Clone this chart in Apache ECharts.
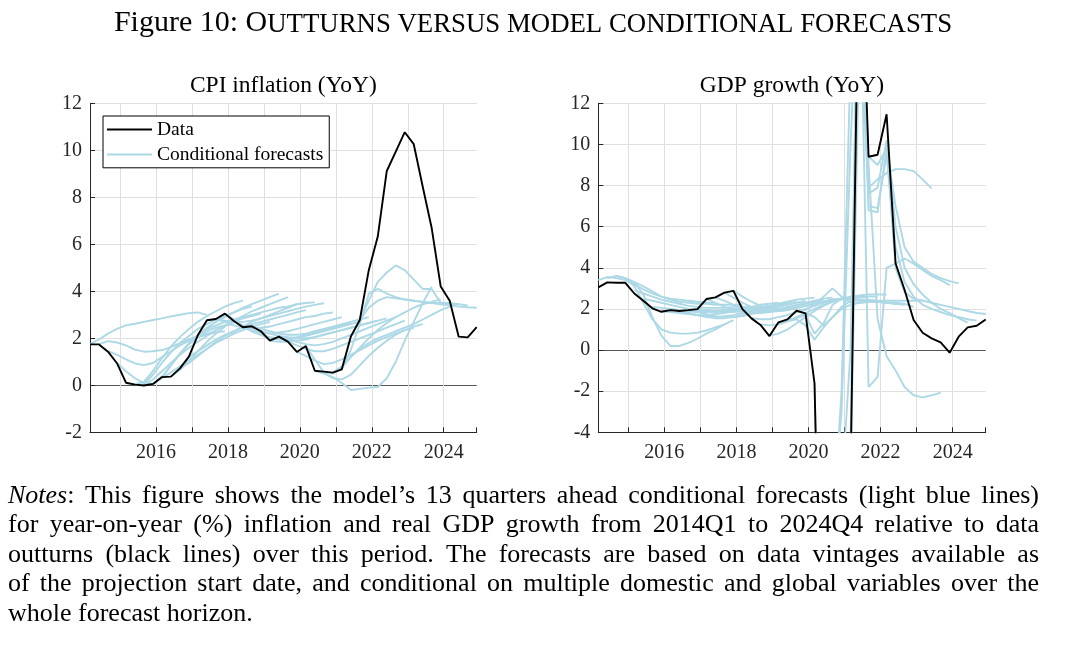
<!DOCTYPE html>
<html>
<head>
<meta charset="utf-8">
<title>Figure 10: Outturns versus model conditional forecasts</title>
<script src="https://cdn.jsdelivr.net/npm/echarts@6.0.0/dist/echarts.min.js"></script>
<style>
html, body { margin: 0; padding: 0; background: #fff; }
#chart { width: 1068px; height: 656px; }
</style>
</head>
<body>
<div id="chart"></div>
<script>
// quarters shown on both panels
var quarters = [
  '2014Q1','2014Q2','2014Q3','2014Q4','2015Q1','2015Q2','2015Q3','2015Q4',
  '2016Q1','2016Q2','2016Q3','2016Q4','2017Q1','2017Q2','2017Q3','2017Q4',
  '2018Q1','2018Q2','2018Q3','2018Q4','2019Q1','2019Q2','2019Q3','2019Q4',
  '2020Q1','2020Q2','2020Q3','2020Q4','2021Q1','2021Q2','2021Q3','2021Q4',
  '2022Q1','2022Q2','2022Q3','2022Q4','2023Q1','2023Q2','2023Q3','2023Q4',
  '2024Q1','2024Q2','2024Q3','2024Q4'
];

// outturns (black lines)
var cpiData = [1.74,1.74,1.43,0.94,0.11,0.03,-0.01,0.06,0.35,0.37,0.72,1.22,2.14,2.77,2.82,3.05,
  2.74,2.47,2.51,2.3,1.9,2.07,1.86,1.42,1.67,0.62,0.58,0.54,0.68,2.07,2.78,4.9,
  6.33,9.12,9.94,10.77,10.26,8.45,6.68,4.2,3.6,2.07,2.04,2.48];
var gdpData = [3.05,3.29,3.27,3.27,2.75,2.4,2.03,1.86,1.94,1.9,1.94,1.99,2.48,2.56,2.79,2.88,
  1.99,1.54,1.22,0.68,1.35,1.49,1.91,1.78,-1.62,-21.0,-8.5,-7.0,-6.0,22.0,9.4,9.5,
  11.47,4.21,2.92,1.46,0.84,0.57,0.37,-0.13,0.65,1.1,1.18,1.49];

// projection start quarters, one per forecast path
var fcStarts = quarters.slice(0, 31);

// 13 quarters ahead conditional forecasts (light blue lines)
var cpiForecasts = [
  [1.75,1.95,2.2,2.4,2.55,2.62,2.7,2.78,2.85,2.93,3.0,3.07,3.1,3.0],
  [1.75,1.88,1.82,1.7,1.52,1.43,1.45,1.5,1.62,1.8,1.95,2.1,2.2,2.3],
  [1.45,1.3,1.1,0.93,0.86,0.95,1.2,1.45,1.7,1.9,2.05,2.15,2.25,2.3],
  [0.95,0.6,0.3,0.1,0.05,0.35,0.85,1.35,1.75,2.05,2.3,2.45,2.55,2.6],
  [0.1,0.05,0.15,0.6,1.15,1.65,2.05,2.4,2.7,2.95,3.15,3.35,3.5,3.6],
  [0.0,0.05,0.45,0.95,1.4,1.8,2.1,2.4,2.6,2.8,2.95,3.1,3.25,3.35],
  [0.0,0.25,0.6,0.95,1.3,1.6,1.85,2.1,2.35,2.55,2.7,2.85,2.95,3.05],
  [0.05,0.3,0.55,0.8,1.05,1.3,1.55,1.8,2.0,2.2,2.35,2.5,2.6,2.7],
  [0.35,0.85,1.35,1.8,2.15,2.45,2.7,2.9,3.1,3.3,3.45,3.6,3.75,3.9],
  [0.37,0.65,1.05,1.45,1.85,2.2,2.5,2.75,2.95,3.15,3.3,3.45,3.6,3.75],
  [0.72,0.95,1.25,1.55,1.85,2.1,2.3,2.5,2.7,2.85,3.0,3.15,3.3,3.45],
  [1.22,1.45,1.7,1.95,2.15,2.3,2.45,2.6,2.7,2.8,2.9,3.0,3.1,3.2],
  [2.14,2.4,2.55,2.7,2.8,2.9,3.0,3.1,3.2,3.3,3.35,3.45,3.5,3.53],
  [2.77,2.8,2.75,2.7,2.7,2.75,2.85,2.95,3.05,3.15,3.25,3.35,3.42,3.49],
  [2.82,2.7,2.55,2.45,2.4,2.45,2.5,2.6,2.7,2.8,2.9,2.95,3.05,3.1],
  [3.05,2.8,2.55,2.35,2.25,2.2,2.25,2.3,2.4,2.5,2.6,2.7,2.8,2.9],
  [2.74,2.5,2.3,2.15,2.05,2.0,2.0,2.05,2.15,2.25,2.35,2.45,2.55,2.65],
  [2.47,2.3,2.15,2.0,1.95,1.95,2.0,2.1,2.2,2.3,2.4,2.5,2.6,2.7],
  [2.51,2.4,2.3,2.2,2.15,2.15,2.2,2.3,2.4,2.5,2.6,2.7,2.8,2.9],
  [2.3,2.2,2.1,2.05,2.0,2.0,2.05,2.15,2.25,2.35,2.45,2.55,2.65,2.75],
  [1.9,1.85,1.85,1.9,1.95,2.05,2.15,2.25,2.35,2.45,2.55,2.65,2.75,2.85],
  [2.07,1.95,1.85,1.75,1.7,1.75,1.85,2.0,2.15,2.3,2.45,2.6,2.75,2.9],
  [1.86,1.7,1.55,1.45,1.45,1.55,1.7,1.85,2.0,2.15,2.3,2.45,2.6,2.75],
  [1.42,1.25,1.05,0.9,0.95,1.1,1.3,1.5,1.7,1.9,2.05,2.2,2.35,2.45],
  [1.67,1.1,0.55,0.3,0.25,0.45,0.85,1.25,1.6,1.9,2.15,2.35,2.5,2.6],
  [0.62,0.5,0.35,0.1,-0.2,-0.15,-0.1,-0.07,0.3,1.0,1.9,2.7,3.5,4.2],
  [0.58,0.5,0.75,1.2,1.6,2.0,2.35,2.65,2.9,3.1,3.3,3.45,3.55,3.66],
  [0.54,0.8,1.2,1.55,1.8,2.0,2.15,2.3,2.45,2.6,2.8,3.0,3.2,3.35],
  [0.68,1.5,2.6,3.9,4.1,3.9,3.75,3.65,3.6,3.55,3.5,3.5,3.47,3.45],
  [2.07,2.8,3.6,4.4,4.8,5.1,4.9,4.5,4.1,4.1,3.5,3.5,3.45,3.4],
  [2.78,3.3,3.6,3.75,3.7,3.65,3.6,3.55,3.5,3.45,3.4,3.35,3.32,3.3]
];
var gdpForecasts = [
  [3.4,3.55,3.5,3.4,3.2,2.95,2.75,2.6,2.5,2.45,2.4,2.35,2.3,2.3],
  [3.5,3.6,3.5,3.1,2.3,1.5,1.0,0.85,0.8,0.8,0.85,0.95,1.1,1.25],
  [3.6,3.5,3.3,2.7,1.6,0.7,0.2,0.2,0.35,0.55,0.8,1.0,1.25,1.45],
  [3.4,3.3,3.1,2.85,2.6,2.45,2.35,2.3,2.25,2.25,2.2,2.2,2.2,2.2],
  [2.9,2.75,2.6,2.45,2.35,2.25,2.15,2.1,2.05,2.05,2.05,2.1,2.1,2.1],
  [2.5,2.4,2.3,2.2,2.1,2.0,1.95,1.9,1.9,1.95,2.0,2.0,2.05,2.05],
  [2.1,2.05,2.0,1.95,1.9,1.85,1.85,1.85,1.9,1.95,2.0,2.05,2.1,2.15],
  [1.9,1.85,1.8,1.75,1.7,1.7,1.75,1.8,1.9,2.0,2.1,2.2,2.25,2.3],
  [2.0,1.9,1.8,1.7,1.65,1.6,1.65,1.7,1.8,1.9,2.0,2.1,2.2,2.3],
  [1.9,1.8,1.7,1.6,1.55,1.55,1.6,1.7,1.8,1.9,2.05,2.15,2.25,2.35],
  [1.95,1.85,1.75,1.65,1.6,1.6,1.65,1.75,1.85,2.0,2.1,2.2,2.3,2.4],
  [2.0,1.95,1.9,1.85,1.85,1.9,1.95,2.05,2.15,2.25,2.35,2.45,2.5,2.55],
  [2.5,2.3,2.1,1.95,1.85,1.8,1.8,1.85,1.95,2.05,2.15,2.25,2.35,2.45],
  [2.55,2.4,2.2,2.05,1.95,1.9,1.95,2.0,2.1,2.2,2.3,2.4,2.5,2.55],
  [2.8,2.55,2.3,2.1,1.95,1.9,1.9,1.95,2.05,2.15,2.25,2.35,2.45,2.5],
  [2.9,2.6,2.35,2.15,2.05,2.0,2.0,2.05,2.15,2.25,2.35,2.45,2.5,2.55],
  [2.0,1.9,1.85,1.85,1.9,1.95,2.05,2.15,2.25,2.35,2.45,2.5,2.55,2.6],
  [1.55,1.5,1.5,1.6,1.7,1.85,2.0,2.15,2.3,2.4,2.5,2.55,2.6,2.6],
  [1.25,1.2,1.25,1.4,1.6,1.8,2.0,2.2,2.35,2.45,2.5,2.55,2.6,2.6],
  [0.7,0.8,1.0,1.3,1.6,1.9,2.15,2.35,2.5,2.6,2.65,2.7,2.7,2.7],
  [1.35,1.4,1.5,1.2,0.5,1.1,1.6,2.0,2.2,2.3,2.35,2.35,2.3,2.25],
  [1.5,1.55,1.7,0.8,1.3,2.2,2.5,2.45,2.4,2.4,2.35,2.3,2.25,2.2],
  [1.9,1.95,2.2,2.6,3.0,2.6,2.3,2.3,2.35,2.35,2.3,2.3,2.25,2.1],
  [1.8,1.6,1.2,1.6,2.1,2.4,2.45,2.45,2.4,2.4,2.4,2.4,2.4,2.43],
  [-1.6,-20,-10,-8,-4.5,26,7.9,8.3,8.6,8.8,8.8,8.7,8.3,7.86],
  [-21,-9,-2,14,20,9,1.5,-0.3,-1.0,-1.8,-2.2,-2.3,-2.2,-2.07],
  [-8,-3,10,20,-1.8,-1.3,4.0,4.2,4.45,4.2,3.9,3.6,3.4,3.16],
  [-7,0,22,6.8,6.7,9.8,7.0,5.0,4.3,4.0,3.7,3.5,3.35,3.24],
  [-6,16,7.6,7.9,10.2,6.0,4.0,3.2,2.7,2.3,2.0,1.8,1.55,1.33],
  [20,7.0,6.9,9.5,5.0,3.3,2.6,2.2,2.0,1.85,1.7,1.6,1.5,1.43],
  [9.4,9.0,9.8,4.0,2.8,2.5,2.4,2.3,2.2,2.1,2.0,1.9,1.8,1.75]
];

// axis ticks
var cpiYTicks = [-2, 0, 2, 4, 6, 8, 10, 12];
var gdpYTicks = [-4, -2, 0, 2, 4, 6, 8, 10, 12];

// texts
var figTitleBig = 'Figure 10: O';
var figTitleSmall = 'UTTURNS VERSUS MODEL CONDITIONAL FORECASTS';
var panelTitles = ['CPI inflation (YoY)', 'GDP growth (YoY)'];
var noteLines = [
  '_Notes_: This figure shows the model\u2019s 13 quarters ahead conditional forecasts (light blue lines)',
  'for year-on-year (%) inflation and real GDP growth from 2014Q1 to 2024Q4 relative to data',
  'outturns (black lines) over this period.  The forecasts are based on data vintages available as',
  'of the projection start date, and conditional on multiple domestic and global variables over the',
  'whole forecast horizon.'
];

var FONT = '"Liberation Serif", "Times New Roman", serif';
var FC_COLOR = '#add8e6';
var AXIS_COLOR = '#262626';
var GRID_COLOR = '#dfdfdf';
var ZERO_COLOR = '#555555';

// quarter label -> decimal year (dated two months into the quarter)
function qToX(q) {
  return +q.slice(0, 4) + (+q.slice(5) - 1) / 4 + 1 / 6;
}
var xMin = qToX(quarters[0]);
var xMax = qToX(quarters[quarters.length - 1]);

var measureCtx = document.createElement('canvas').getContext('2d');
function textWidth(str, size, italic) {
  measureCtx.font = (italic ? 'italic ' : '') + size + 'px ' + FONT;
  return measureCtx.measureText(str).width;
}

var panels = [
  { left: 90, width: 386.7 },
  { left: 598.3, width: 387.4 }
];
var gridTop = 103.3, gridHeight = 329;

function fcSeries(paths, idx) {
  return paths.map(function (vals, k) {
    var s0 = quarters.indexOf(fcStarts[k]);
    return {
      name: 'Conditional forecasts',
      type: 'line',
      xAxisIndex: idx,
      yAxisIndex: idx,
      symbol: 'none',
      silent: true,
      lineStyle: { color: FC_COLOR, width: 1.9 },
      itemStyle: { color: FC_COLOR },
      data: vals.map(function (v, j) { return [qToX(quarters[s0 + j]), v]; })
    };
  });
}
function dataSeries(vals, idx) {
  return {
    name: 'Data',
    type: 'line',
    xAxisIndex: idx,
    yAxisIndex: idx,
    symbol: 'none',
    silent: true,
    lineStyle: { color: '#000', width: 1.9 },
    itemStyle: { color: '#000' },
    data: vals.map(function (v, j) { return [qToX(quarters[j]), v]; })
  };
}

function xAxisFor(idx) {
  return {
    type: 'value',
    gridIndex: idx,
    min: xMin,
    max: xMax,
    minInterval: 1,
    maxInterval: 1,
    axisLine: { show: true, onZero: false, lineStyle: { color: AXIS_COLOR, width: 1 } },
    axisTick: { show: true, inside: true, length: 5, lineStyle: { color: AXIS_COLOR } },
    axisLabel: {
      margin: 10,
      fontFamily: FONT,
      fontSize: 20,
      color: AXIS_COLOR,
      formatter: function (v) {
        return (Math.abs(v - Math.round(v)) < 1e-6 && Math.round(v) % 2 === 0) ? String(Math.round(v)) : '';
      }
    },
    splitLine: { show: true, showMinLine: false, showMaxLine: false, lineStyle: { color: GRID_COLOR, width: 1 } }
  };
}
function yAxisFor(idx, ticks) {
  return {
    type: 'value',
    gridIndex: idx,
    min: ticks[0],
    max: ticks[ticks.length - 1],
    interval: 2,
    axisLine: { show: true, onZero: false, lineStyle: { color: AXIS_COLOR, width: 1 } },
    axisTick: { show: true, inside: true, length: 5, lineStyle: { color: AXIS_COLOR } },
    axisLabel: { margin: 8, fontFamily: FONT, fontSize: 20, color: AXIS_COLOR },
    splitLine: {
      show: true,
      lineStyle: {
        color: ticks.map(function (t) { return t === 0 ? ZERO_COLOR : GRID_COLOR; }),
        width: 1
      }
    }
  };
}

// texts drawn as graphic elements
var graphics = [];
(function () {
  var big = 30, small = 26.8;
  var w1 = textWidth(figTitleBig, big), w2 = textWidth(figTitleSmall, small);
  var x0 = 533 - (w1 + w2) / 2;
  var base = 33.7;
  graphics.push({ type: 'text', x: x0, y: base - 0.34 * big,
    style: { text: figTitleBig, fontFamily: FONT, fontSize: big, fill: '#000', align: 'left', verticalAlign: 'middle' } });
  graphics.push({ type: 'text', x: x0 + w1, y: base - 0.34 * small,
    style: { text: figTitleSmall, fontFamily: FONT, fontSize: small, fill: '#000', align: 'left', verticalAlign: 'middle' } });
})();
panelTitles.forEach(function (t, i) {
  graphics.push({ type: 'text', x: panels[i].left + panels[i].width / 2, y: 94 - 0.34 * 23.5,
    style: { text: t, fontFamily: FONT, fontSize: 23.5, fill: '#000', align: 'center', verticalAlign: 'middle' } });
});
(function () {
  var size = 26, leftX = 8, rightX = 1039;
  var baselines = [505, 534.5, 564, 593.5, 623];
  noteLines.forEach(function (line, li) {
    var words = line.split(/ +/).map(function (w) {
      return w.split('_').map(function (t, k) { return { t: t, it: k % 2 === 1 }; })
        .filter(function (s) { return s.t.length; });
    });
    var widths = words.map(function (w) {
      return w.reduce(function (s, seg) { return s + textWidth(seg.t, size, seg.it); }, 0);
    });
    var total = widths.reduce(function (a, b) { return a + b; }, 0);
    var last = li === noteLines.length - 1;
    var gap = last ? textWidth(' ', size) : (rightX - leftX - total) / (words.length - 1);
    var x = leftX;
    words.forEach(function (w, i) {
      var sx = x;
      w.forEach(function (seg) {
        graphics.push({ type: 'text', x: sx, y: baselines[li] - 0.34 * size,
          style: { text: seg.t, fontFamily: FONT, fontSize: size, fontStyle: seg.it ? 'italic' : 'normal',
            fill: '#000', align: 'left', verticalAlign: 'middle' } });
        sx += textWidth(seg.t, size, seg.it);
      });
      x += widths[i] + gap;
    });
  });
})();

var chart = echarts.init(document.getElementById('chart'), null, { renderer: 'canvas' });
chart.setOption({
  animation: false,
  backgroundColor: '#fff',
  grid: panels.map(function (p) {
    return { left: p.left, top: gridTop, width: p.width, height: gridHeight, containLabel: false };
  }),
  xAxis: [xAxisFor(0), xAxisFor(1)],
  yAxis: [yAxisFor(0, cpiYTicks), yAxisFor(1, gdpYTicks)],
  legend: {
    data: ['Data', 'Conditional forecasts'],
    orient: 'vertical',
    left: 103,
    top: 116,
    padding: [3.5, 6, 3.3, 4],
    itemGap: 5,
    itemWidth: 45,
    itemHeight: 2,
    icon: 'rect',
    selectedMode: false,
    borderColor: '#000',
    borderWidth: 1,
    backgroundColor: '#fff',
    textStyle: { fontFamily: FONT, fontSize: 19.5, color: '#000' }
  },
  series: fcSeries(cpiForecasts, 0)
    .concat([dataSeries(cpiData, 0)])
    .concat(fcSeries(gdpForecasts, 1))
    .concat([dataSeries(gdpData, 1)]),
  graphic: graphics
});
</script>
</body>
</html>
